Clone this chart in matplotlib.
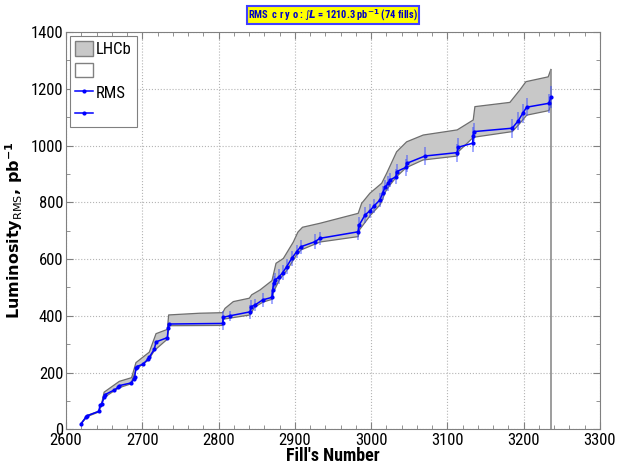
import matplotlib
matplotlib.use('Agg')
import numpy as np
import matplotlib.pyplot as plt
from matplotlib import font_manager
from matplotlib.patches import Patch
from matplotlib.lines import Line2D
from matplotlib.ticker import MultipleLocator

installed = set(f.name for f in font_manager.fontManager.ttflist)

def pick(names):
    for n in names:
        if n in installed:
            return n
    return 'DejaVu Sans'

narrow = pick(['Liberation Sans Narrow', 'DejaVu Sans Condensed', 'Roboto Condensed',
               'Open Sans Condensed', 'Liberation Sans'])

plt.rcParams['mathtext.fontset'] = 'custom'
plt.rcParams['mathtext.rm'] = 'DejaVu Sans'
plt.rcParams['mathtext.it'] = 'DejaVu Sans:italic:bold'
plt.rcParams['mathtext.bf'] = 'DejaVu Sans:bold'

# RMS cumulative luminosity per fill
fill = [2619.7, 2626.2, 2627.0, 2642.9, 2644.6, 2646.8, 2650.2, 2651.0, 2662.9, 2668.5,
        2669.9, 2684.8, 2689.1, 2690.0, 2691.7, 2692.6, 2700.5, 2707.9, 2709.2, 2715.7,
        2718.0, 2732.8, 2734.0, 2734.6, 2805.4, 2806.2, 2815.0, 2841.5, 2842.5, 2847.7,
        2857.8, 2870.0, 2870.9, 2872.2, 2873.9, 2879.6, 2884.0, 2889.3, 2895.8, 2902.4,
        2907.6, 2926.3, 2932.9, 2983.0, 2984.4, 2991.9, 2998.4, 3003.7, 3011.5, 3015.0,
        3018.1, 3022.4, 3024.6, 3032.5, 3033.4, 3045.6, 3046.5, 3070.5, 3112.8, 3114.2,
        3133.0, 3133.8, 3134.7, 3184.9, 3192.8, 3198.6, 3203.8, 3233.4, 3235.2]
lumi = [20, 42, 47, 63, 85, 90, 115, 122, 138, 148,
        154, 163, 176, 183, 215, 221, 229, 248, 254, 282,
        308, 323, 356, 371, 373, 395, 400, 414, 432, 438,
        456, 465, 491, 514, 526, 538, 552, 573, 602, 626,
        643, 661, 673, 696, 720, 755, 770, 787, 808, 832,
        853, 867, 878, 890, 908, 923, 937, 963, 975, 994,
        1008, 1033, 1049, 1061, 1087, 1113, 1135, 1149, 1170]
lumi_err = [3, 3, 3, 3, 3, 3, 3, 3, 3, 3,
            3, 3, 3, 3, 3, 3, 3, 3, 3, 4,
            4, 4, 4, 4, 22, 22, 18, 24, 24, 22,
            24, 24, 26, 26, 24, 26, 26, 26, 26, 24,
            24, 26, 24, 28, 28, 28, 25, 25, 25, 25,
            25, 27, 25, 27, 27, 30, 30, 32, 32, 32,
            32, 32, 32, 34, 32, 32, 32, 34, 38]

# LHCb band edges
band_up_x = [2619.7, 2627, 2643, 2646.8, 2650, 2669.9, 2686, 2691.7, 2709.2, 2718, 2732.8,
             2734.6, 2775, 2805.4, 2808.4, 2819.3, 2840.3, 2843.4, 2854.3, 2870, 2875.3,
             2884.9, 2898, 2904, 2910, 2932.9, 2983, 2987.5, 2998.4, 3013.8, 3020.3,
             3033.4, 3046.5, 3068.3, 3112.8, 3133.8, 3136, 3181.9, 3195, 3202.9, 3232.1, 3235.6]
band_up_y = [20, 48, 64, 92, 131, 169, 182, 235, 272, 337, 352,
             403, 409, 411, 426, 450, 462, 474, 491, 524, 585,
             602, 660, 695, 712, 726, 761, 796, 832, 867, 902,
             978, 1013, 1037, 1055, 1090, 1137, 1152, 1196, 1225, 1242, 1268]
band_lo_x = [2619.7, 2627, 2643, 2650, 2669, 2685, 2692, 2708, 2716, 2733, 2735, 2805,
             2806, 2841.5, 2847, 2858, 2870, 2872, 2880, 2890, 2902, 2908, 2933, 2983,
             2985, 2999, 3012, 3019, 3025, 3034, 3046, 3068, 3113, 3115, 3134, 3185,
             3193, 3204, 3233, 3235.6]
band_lo_y = [18, 44, 61, 112, 146, 160, 212, 244, 278, 318, 365, 366,
             388, 403, 430, 448, 458, 484, 528, 562, 614, 632, 660, 679,
             704, 754, 792, 838, 862, 892, 922, 949, 963, 980, 1029, 1049,
             1072, 1107, 1123, 1143]
last_fill = 3235.6

fig = plt.figure(figsize=(6.17, 4.66), dpi=100)
ax = fig.add_axes([66/617, (466-429.3)/466, (600-66)/617, (429.3-32)/466])

ax.fill(np.concatenate([band_up_x, band_lo_x[::-1]]),
        np.concatenate([band_up_y, band_lo_y[::-1]]),
        facecolor='#c8c8c8', edgecolor='none', zorder=2)
ax.plot(band_up_x, band_up_y, color='#6e6e6e', lw=0.9, zorder=3)
ax.plot(band_lo_x, band_lo_y, color='#6e6e6e', lw=0.9, zorder=3)
ax.vlines(last_fill, 0, band_up_y[-1], color='#8c8c8c', lw=1.2, zorder=3)

ax.errorbar(fill, lumi, yerr=lumi_err, fmt='none', ecolor='#3a4cff', elinewidth=1.1,
            alpha=0.6, zorder=4)
ax.plot(fill, lumi, color='#0000ff', lw=1.1, marker='.', ms=4, zorder=5)

ax.set_xlim(2600, 3300)
ax.set_ylim(0, 1400)
ax.xaxis.set_major_locator(MultipleLocator(100))
ax.xaxis.set_minor_locator(MultipleLocator(20))
ax.yaxis.set_major_locator(MultipleLocator(200))
ax.yaxis.set_minor_locator(MultipleLocator(100))
ax.grid(True, which='major', color='#b4b4b4', linestyle=':', lw=0.8)
ax.tick_params(which='both', direction='in', top=True, right=True, color='#808080')
ax.tick_params(which='major', length=5, labelsize=12)
ax.tick_params(axis='x', which='major', pad=3)
ax.tick_params(axis='y', which='major', pad=2)
ax.tick_params(which='minor', length=3)
for lab in ax.get_xticklabels() + ax.get_yticklabels():
    lab.set_family(narrow)
for sp in ax.spines.values():
    sp.set_color('#808080')

ax.set_xlabel("Fill's Number", family=narrow, fontweight='bold', fontsize=13, labelpad=-1)
ax.set_ylabel(r'Luminosity$_{\mathrm{RMS}}$, pb$^{\mathbf{-1}}$', family='DejaVu Sans',
              fontweight='bold', fontsize=11.5, labelpad=4)

handles = [Patch(facecolor='#c8c8c8', edgecolor='#808080'),
           Patch(facecolor='white', edgecolor='#808080'),
           Line2D([], [], color='#0000ff', lw=1.1, marker='.', ms=4),
           Line2D([], [], color='#0000ff', lw=1.1, marker='.', ms=4)]
leg = ax.legend(handles, ['LHCb', '', 'RMS', ''], loc='upper left',
                prop={'family': narrow, 'size': 12}, fancybox=False, framealpha=1,
                edgecolor='#808080', handlelength=1.05, handleheight=0.95,
                handletextpad=0.2, labelspacing=0.35, borderpad=0.3, borderaxespad=0.25)
leg.get_frame().set_linewidth(0.8)

fig.text(333/617, 1 - 15/466,
         r'RMS  c r y o : $\int\!\mathit{L}$ = 1210.3 pb$^{\mathbf{-1}}$ (74 fills)',
         ha='center', va='center', fontsize=7.5, fontweight='bold', color='#0000c8',
         family=narrow,
         bbox=dict(boxstyle='square,pad=0.15', facecolor='#ffff00', edgecolor='#4040ff', lw=1.5))

fig.savefig('out.png', dpi=100)
